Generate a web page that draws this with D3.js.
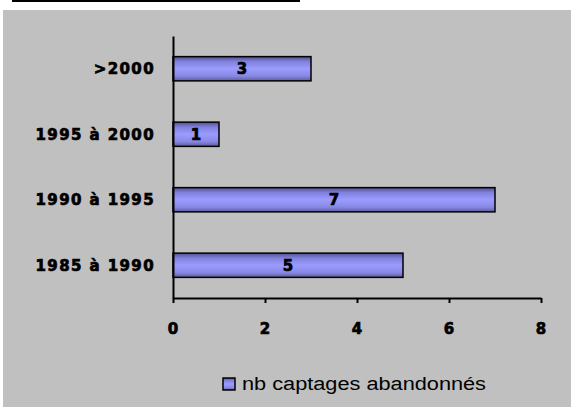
<!DOCTYPE html>
<html lang="fr">
<head>
    <meta charset="UTF-8">
    <title>nb captages abandonnés</title>
    <style>
        body { margin: 0; padding: 0; background: #ffffff; }
        .pix { font-family: "DejaVu Sans", sans-serif; font-weight: bold; font-size: 15px; fill: #000; stroke: #000; stroke-width: 0.7px; }
        .axis .domain { stroke: #000; stroke-width: 2px; }
        .axis line { stroke: #000; stroke-width: 2px; }
    </style>
</head>
<body>
<script src="https://d3js.org/d3.v7.min.js"></script>
<script>
    // données
    const categories = [">2000", "1995 à 2000", "1990 à 1995", "1985 à 1990"];
    const valeurs = [3, 1, 7, 5];
    const xTicks = [0, 2, 4, 6, 8];
    const serieNom = "nb captages abandonnés";

    const W = 571, H = 407;
    const svg = d3.select("body").append("svg")
        .attr("width", W)
        .attr("height", H);

    // fond gris + trait noir en haut
    svg.append("rect").attr("x", 3).attr("y", 10).attr("width", W - 3).attr("height", H - 10).attr("fill", "#c0c0c0");
    svg.append("rect").attr("x", 12).attr("y", 0).attr("width", 288).attr("height", 2).attr("fill", "#000");

    const defs = svg.append("defs");
    const grad = defs.append("linearGradient").attr("id", "barGrad")
        .attr("x1", 0).attr("y1", 0).attr("x2", 0).attr("y2", 1);
    [[0, "#50508c"], [0.2, "#8080dc"], [0.5, "#9c9cff"], [0.8, "#8888e4"], [1, "#5c5c9c"]]
        .forEach(s => grad.append("stop").attr("offset", s[0]).attr("stop-color", s[1]));

    const x = d3.scaleLinear().domain([0, 8]).range([173, 541]);
    const y = d3.scaleBand().domain(categories).range([36, 298])
        .paddingInner(0.63).paddingOuter(0.315);

    const data = categories.map((c, i) => ({ cat: c, val: valeurs[i] }));

    // barres
    svg.selectAll(".bar")
        .data(data)
        .enter().append("rect")
        .attr("class", "bar")
        .attr("x", x(0))
        .attr("y", d => y(d.cat))
        .attr("width", d => x(d.val) - x(0))
        .attr("height", y.bandwidth())
        .attr("fill", "url(#barGrad)")
        .attr("stroke", "#000")
        .attr("stroke-width", 1.5);

    // étiquettes de valeur
    svg.selectAll(".val")
        .data(data)
        .enter().append("text")
        .attr("class", "pix")
        .attr("x", d => (x(0) + x(d.val)) / 2)
        .attr("y", d => y(d.cat) + y.bandwidth() / 2)
        .attr("dy", "0.36em")
        .attr("text-anchor", "middle")
        .text(d => d.val);

    // axe x
    const xAxis = svg.append("g")
        .attr("class", "axis")
        .attr("transform", "translate(0,298)")
        .call(d3.axisBottom(x).tickValues(xTicks).tickSize(5).tickSizeOuter(0));
    xAxis.selectAll("text").remove();
    svg.selectAll(".xlab")
        .data(xTicks)
        .enter().append("text")
        .attr("class", "pix")
        .attr("x", d => x(d))
        .attr("y", 334)
        .attr("text-anchor", "middle")
        .text(d => d);

    // axe y
    const yAxis = svg.append("g")
        .attr("class", "axis")
        .attr("transform", "translate(173,0)")
        .call(d3.axisLeft(y).tickSize(0).tickSizeOuter(0));
    yAxis.selectAll("text").remove();
    svg.selectAll(".ylab")
        .data(categories)
        .enter().append("text")
        .attr("class", "pix")
        .attr("x", 155)
        .attr("y", d => y(d) + y.bandwidth() / 2)
        .attr("dy", "0.36em")
        .attr("text-anchor", "end")
        .style("letter-spacing", "1.4px")
        .text(d => d);

    // légende
    svg.append("rect")
        .attr("x", 223).attr("y", 378).attr("width", 12).attr("height", 12)
        .attr("fill", "url(#barGrad)").attr("stroke", "#000").attr("stroke-width", 1.5);
    svg.append("text")
        .attr("x", 242).attr("y", 390)
        .attr("font-family", "Liberation Sans, Arial, sans-serif")
        .attr("font-size", 18)
        .attr("textLength", 244)
        .attr("lengthAdjust", "spacingAndGlyphs")
        .attr("fill", "#000")
        .text(serieNom);
</script>
</body>
</html>
